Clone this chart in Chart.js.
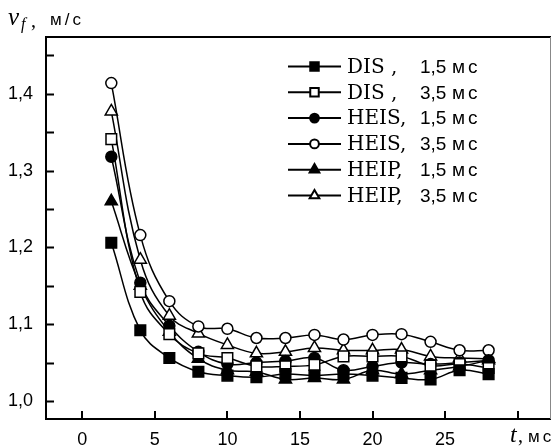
<!DOCTYPE html>
<html>
<head>
<meta charset="utf-8">
<script src="https://cdn.jsdelivr.net/npm/chart.js@4/dist/chart.umd.min.js"></script>
<style>
  html, body { margin: 0; padding: 0; background: #fff; }
  canvas { display: block; }
</style>
</head>
<body>
<canvas id="velChart" width="560" height="446"></canvas>
<script>
// time, ms
const times = [2, 4, 6, 8, 10, 12, 14, 16, 18, 20, 22, 24, 26, 28];

// v_f, m/s
const disShort  = [1.206, 1.092, 1.056, 1.038, 1.033, 1.031, 1.035, 1.033, 1.035, 1.033, 1.030, 1.028, 1.040, 1.035];
const disLong   = [1.341, 1.142, 1.087, 1.062, 1.056, 1.045, 1.045, 1.047, 1.058, 1.058, 1.058, 1.046, 1.048, 1.043];
const heisShort = [1.318, 1.154, 1.098, 1.064, 1.048, 1.050, 1.052, 1.056, 1.040, 1.045, 1.050, 1.048, 1.050, 1.053];
const heisLong  = [1.414, 1.216, 1.130, 1.097, 1.094, 1.082, 1.082, 1.086, 1.080, 1.086, 1.087, 1.077, 1.066, 1.066];
const heipShort = [1.260, 1.150, 1.090, 1.055, 1.040, 1.038, 1.028, 1.030, 1.028, 1.040, 1.035, 1.040, 1.045, 1.053];
const heipLong  = [1.377, 1.184, 1.111, 1.088, 1.073, 1.062, 1.064, 1.069, 1.066, 1.066, 1.067, 1.058, 1.056, 1.055];

const methods = ['DIS', 'DIS', 'HEIS', 'HEIS', 'HEIP', 'HEIP'];
const pulses = ['1,5', '3,5', '1,5', '3,5', '1,5', '3,5'];
const xTicks = [0, 5, 10, 15, 20, 25, 30];
const yTicks = [1.0, 1.05, 1.1, 1.15, 1.2, 1.25, 1.3, 1.35, 1.4, 1.45];

const allSeries = [disShort, disLong, heisShort, heisLong, heipShort, heipLong];
const styles = [
    { pointStyle: 'rect', radius: 7.5, fill: '#000' },
    { pointStyle: 'rect', radius: 7.5, fill: '#fff' },
    { pointStyle: 'circle', radius: 5.5, fill: '#000' },
    { pointStyle: 'circle', radius: 5.5, fill: '#fff' },
    { pointStyle: 'triangle', radius: 7, fill: '#000' },
    { pointStyle: 'triangle', radius: 7, fill: '#fff' }
];

const datasets = allSeries.map((vals, i) => ({
    label: methods[i] + ', ' + pulses[i] + ' мс',
    method: methods[i],
    pulse: pulses[i],
    data: vals.map((v, k) => ({ x: times[k], y: v })),
    borderColor: '#000',
    borderWidth: 1.5,
    tension: 0.4,
    pointStyle: styles[i].pointStyle,
    pointRadius: styles[i].radius,
    pointBackgroundColor: styles[i].fill,
    pointBorderColor: '#000',
    pointBorderWidth: 1.5,
    fill: false
}));

const framePlugin = {
    id: 'frame',
    afterDraw(chart) {
        const { ctx, chartArea: a, scales } = chart;
        ctx.save();
        ctx.strokeStyle = '#000';
        ctx.lineWidth = 2;
        ctx.beginPath();
        ctx.moveTo(a.right, a.top);
        ctx.lineTo(a.left, a.top);
        ctx.lineTo(a.left, a.bottom);
        ctx.lineTo(a.right, a.bottom);
        ctx.stroke();
        ctx.strokeStyle = '#888';
        ctx.lineWidth = 1;
        ctx.beginPath();
        ctx.moveTo(a.right - 0.5, a.top);
        ctx.lineTo(a.right - 0.5, a.bottom);
        ctx.stroke();

        // inward ticks
        ctx.strokeStyle = '#000';
        ctx.lineWidth = 2;
        ctx.beginPath();
        yTicks.forEach(v => {
            const y = Math.round(scales.y.getPixelForValue(v)) + 0.5;
            ctx.moveTo(a.left, y);
            ctx.lineTo(a.left + 8, y);
        });
        xTicks.forEach(v => {
            const x = Math.round(scales.x.getPixelForValue(v));
            ctx.moveTo(x, a.bottom);
            ctx.lineTo(x, a.bottom - 8);
        });
        ctx.stroke();

        // axis titles
        ctx.fillStyle = '#000';
        ctx.textBaseline = 'alphabetic';
        ctx.textAlign = 'left';
        ctx.font = 'italic 25px "Liberation Serif"';
        ctx.fillText('v', 8, 25);
        ctx.font = 'italic 16px "Liberation Serif"';
        ctx.fillText('f', 21, 29);
        ctx.font = '20px "Liberation Serif"';
        ctx.fillText(',', 31, 27);
        ctx.font = '17px "Liberation Sans"';
        ctx.letterSpacing = '3px';
        ctx.fillText('м/с', 50, 25);

        ctx.font = 'italic 24px "Liberation Serif"';
        ctx.letterSpacing = '0px';
        ctx.fillText('t', 510, 442);
        ctx.font = '20px "Liberation Serif"';
        ctx.fillText(',', 518, 442);
        ctx.font = '17px "Liberation Sans"';
        ctx.letterSpacing = '3px';
        ctx.fillText('мс', 528, 442);
        ctx.restore();
    }
};

const legendPlugin = {
    id: 'sampleLegend',
    afterDraw(chart) {
        const ctx = chart.ctx;
        ctx.save();
        chart.data.datasets.forEach((ds, i) => {
            const y = 66.5 + i * 25.8;
            ctx.strokeStyle = '#000';
            ctx.lineWidth = 2;
            ctx.beginPath();
            ctx.moveTo(288, y);
            ctx.lineTo(341, y);
            ctx.stroke();
            ctx.fillStyle = ds.pointBackgroundColor;
            Chart.helpers.drawPoint(ctx, {
                pointStyle: ds.pointStyle,
                radius: ds.pointRadius * 0.8,
                borderWidth: 1.5,
                rotation: 0
            }, 314.5, y);

            ctx.fillStyle = '#000';
            ctx.textBaseline = 'middle';
            ctx.textAlign = 'left';
            ctx.letterSpacing = '0px';
            ctx.font = '20px "DejaVu Serif"';
            ctx.fillText(ds.method + (ds.method === 'DIS' ? ' ,' : ','), 347, y + 1);
            ctx.font = '19px "Liberation Sans"';
            ctx.fillText(ds.pulse, 420, y + 1);
            ctx.letterSpacing = '3px';
            ctx.fillText('мс', 452, y + 1);
        });
        ctx.restore();
    }
};

new Chart(document.getElementById('velChart').getContext('2d'), {
    type: 'line',
    data: { datasets },
    options: {
        responsive: false,
        devicePixelRatio: 1,
        animation: false,
        layout: { padding: { top: 37, right: 2, left: 0, bottom: 0 } },
        plugins: {
            legend: { display: false },
            tooltip: { enabled: false }
        },
        scales: {
            x: {
                type: 'linear',
                min: -2.5,
                max: 32.3,
                afterBuildTicks: s => { s.ticks = xTicks.map(v => ({ value: v })); },
                afterFit: s => { s.height = 27; },
                grid: { display: false },
                border: { display: false },
                ticks: {
                    autoSkip: false,
                    maxRotation: 0,
                    padding: 2,
                    color: '#000',
                    font: { family: 'Liberation Sans', size: 18 },
                    callback: v => (v === 30 ? '' : String(v))
                }
            },
            y: {
                type: 'linear',
                min: 0.9765,
                max: 1.474,
                afterBuildTicks: s => { s.ticks = yTicks.map(v => ({ value: v })); },
                afterFit: s => { s.width = 46; },
                grid: { display: false },
                border: { display: false },
                ticks: {
                    autoSkip: false,
                    padding: 5,
                    color: '#000',
                    font: { family: 'Liberation Sans', size: 18 },
                    callback: v => {
                        const k = Math.round(v * 100);
                        return k % 10 === 0 ? (k / 100).toFixed(1).replace('.', ',') : '';
                    }
                }
            }
        }
    },
    plugins: [framePlugin, legendPlugin]
});
</script>
</body>
</html>
